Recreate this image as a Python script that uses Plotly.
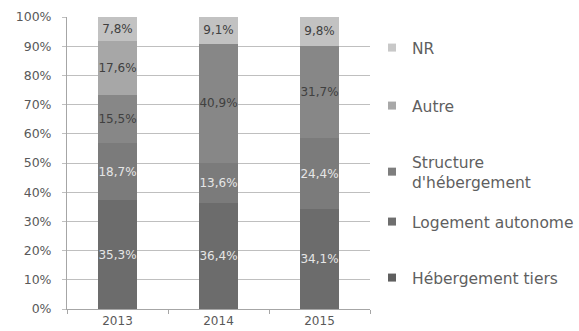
import plotly.graph_objects as go

years = ["2013", "2014", "2015"]
series_names = ["Hébergement tiers", "Logement autonome", "Structure d'hébergement", "Autre", "NR"]
legend_labels = ["Hébergement tiers", "Logement autonome", "Structure<br>d'hébergement", "Autre", "NR"]
heberg_tiers = [35.3, 36.4, 34.1]
logement_auto = [18.7, 13.6, 24.4]
structure_heb = [15.5, 40.9, 31.7]
autre = [17.6, None, None]
nr = [7.8, 9.1, 9.8]
all_values = [heberg_tiers, logement_auto, structure_heb, autre, nr]

bar_colors = ["#6c6c6c", "#7b7b7b", "#878787", "#a7a7a7", "#c2c2c2"]
legend_colors = ["#5f5f5f", "#6e6e6e", "#7e7e7e", "#a8a8a8", "#c8c8c8"]
text_colors = ["#e6e6e6", "#e6e6e6", "#404040", "#404040", "#404040"]
legend_y_px = [278, 222, 172, 106, 48]

FONT = "DejaVu Sans"
W, H = 579, 331

def fmt(v):
    return "" if v is None else f"{v:.1f}%".replace(".", ",")

fig = go.Figure()
for i, (name, vals) in enumerate(zip(series_names, all_values)):
    fig.add_trace(go.Bar(
        x=years, y=vals, name=name, showlegend=False,
        marker=dict(color=bar_colors[i], line=dict(width=0)),
        width=0.38,
        text=[fmt(v) for v in vals], textposition="inside",
        insidetextanchor="middle", textangle=0, constraintext="none",
        textfont=dict(family=FONT, size=12, color=text_colors[i]),
        hoverinfo="skip",
    ))

for i, lab in enumerate(legend_labels):
    lg = "legend" if i == 0 else f"legend{i+1}"
    fig.add_trace(go.Scatter(
        x=[None], y=[None], mode="markers", name=lab, legend=lg,
        marker=dict(symbol="square", size=8, color=legend_colors[i]),
        showlegend=True,
    ))

layout_legends = {}
for i in range(5):
    key = "legend" if i == 0 else f"legend{i+1}"
    layout_legends[key] = dict(
        x=372 / W, xref="container", xanchor="left",
        y=1 - legend_y_px[i] / H, yref="container", yanchor="middle",
        bgcolor="rgba(0,0,0,0)", borderwidth=0,
        font=dict(family=FONT, size=15.5, color="#5f5f5f"),
        itemwidth=30,
    )

fig.update_layout(
    barmode="stack", barnorm="percent",
    width=W, height=H,
    margin=dict(l=67, r=W - 370, t=17, b=H - 309, pad=0, autoexpand=False),
    paper_bgcolor="white", plot_bgcolor="white",
    font=dict(family=FONT, color="#595959"),
    **layout_legends,
)
fig.update_xaxes(
    type="category", tickson="boundaries", ticks="outside", ticklen=4,
    tickcolor="#a6a6a6", showline=True, linecolor="#a6a6a6", linewidth=1,
    showgrid=False, tickfont=dict(family=FONT, size=12, color="#595959"),
    ticklabelstandoff=1, automargin=False,
)
fig.update_yaxes(
    range=[0, 100], dtick=10, ticksuffix="%", ticks="outside", ticklen=4,
    tickcolor="#bfbfbf", showline=True, linecolor="#a6a6a6", linewidth=1,
    showgrid=True, gridcolor="#bfbfbf", gridwidth=1, zeroline=False,
    tickfont=dict(family=FONT, size=12.5, color="#595959"),
    ticklabelstandoff=8, automargin=False,
)

fig.write_html("out.html")
